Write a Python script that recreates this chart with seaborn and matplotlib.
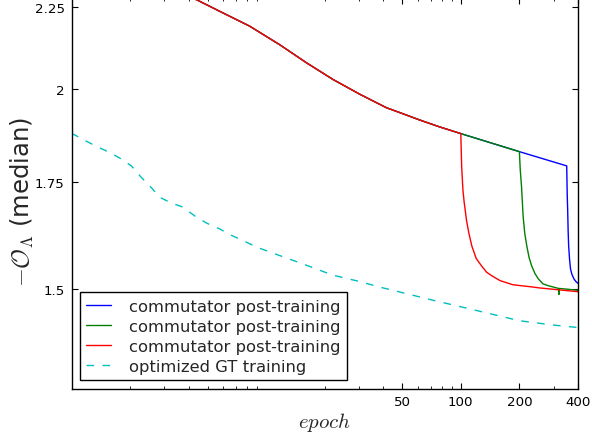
import matplotlib
matplotlib.use("Agg")
import matplotlib.pyplot as plt
import numpy as np
import pandas as pd
import seaborn as sns
from matplotlib.ticker import FixedLocator, FixedFormatter, NullLocator, NullFormatter, LogLocator

# Shared training trajectory (all post-training runs start from it)
shared_epochs = [1, 2, 3, 4.38, 6.0, 8.23, 11.7, 16.1, 22.0, 30.3, 41.5, 50, 61.5, 78, 100, 200, 350]
shared_values = [2.42, 2.36, 2.31, 2.273, 2.230, 2.188, 2.131, 2.076, 2.027, 1.984, 1.946,
                 1.930, 1.912, 1.893, 1.875, 1.827, 1.790]

# Commutator post-training branches: start epoch plus the tail after it
blue_start = 350
blue_epochs = [352, 354, 356, 358, 362, 366, 372, 381, 390, 400]
blue_values = [1.72, 1.68, 1.63, 1.597, 1.565, 1.544, 1.532, 1.522, 1.516, 1.512]

green_start = 200
green_epochs = [202, 205, 209, 213, 218, 224, 231, 240, 250, 264, 281, 318, 319, 320, 360, 400]
green_values = [1.78, 1.739, 1.665, 1.625, 1.597, 1.570, 1.551, 1.534, 1.522, 1.511, 1.507,
                1.501, 1.488, 1.501, 1.499, 1.497]

red_start = 100
red_epochs = [101, 102.5, 104, 107, 110, 114, 120, 128, 136, 145, 159, 185, 235, 255, 400]
red_values = [1.79, 1.73, 1.70, 1.655, 1.625, 1.595, 1.567, 1.550, 1.536, 1.528, 1.518,
              1.509, 1.504, 1.502, 1.494]

# Optimized ground-truth training
gt_epochs = [1, 1.14, 1.34, 1.57, 1.80, 2.03, 2.28, 2.57, 2.84, 3.26, 3.74, 4.29, 4.93, 5.77,
             6.62, 7.61, 8.91, 11.5, 15.4, 22, 29.5, 40, 50, 75, 100, 150, 200, 300, 400]
gt_values = [1.876, 1.860, 1.841, 1.825, 1.808, 1.790, 1.761, 1.735, 1.711, 1.697, 1.687, 1.666,
             1.649, 1.635, 1.620, 1.608, 1.593, 1.575, 1.555, 1.530, 1.517, 1.502, 1.492, 1.474,
             1.462, 1.445, 1.433, 1.424, 1.419]

x_ticks = [50, 100, 200, 400]
x_tick_labels = ["50", "100", "200", "400"]
y_ticks = [1.5, 1.75, 2, 2.25]
y_tick_labels = ["1.5", "1.75", "2", "2.25"]

legend_labels = ["commutator post-training", "commutator post-training",
                 "commutator post-training", "optimized GT training"]


def branch(start, epochs, values):
    e = [x for x in shared_epochs if x <= start] + list(epochs)
    v = [y for x, y in zip(shared_epochs, shared_values) if x <= start] + list(values)
    return pd.DataFrame({"epoch": e, "value": v})


sns.set_style("ticks")
plt.rcParams.update({
    "font.family": ["DejaVu Sans"],
    "mathtext.fontset": "cm",
    "xtick.direction": "in",
    "ytick.direction": "in",
    "xtick.top": True,
    "ytick.right": True,
    "xtick.major.size": 4,
    "ytick.major.size": 4,
    "xtick.minor.size": 2,
    "ytick.minor.size": 2,
    "xtick.major.width": 0.8,
    "ytick.major.width": 0.8,
    "xtick.minor.width": 0.6,
    "axes.edgecolor": "black",
    "axes.linewidth": 1.0,
    "xtick.color": "black",
    "ytick.color": "black",
})

fig = plt.figure(figsize=(5.92, 4.39), dpi=100)
ax = fig.add_axes([71.5 / 592, 49.5 / 439, (578 - 71.5) / 592, 391 / 439])

runs = [
    (branch(blue_start, blue_epochs, blue_values), "#0000ff"),
    (branch(green_start, green_epochs, green_values), "#008000"),
    (branch(red_start, red_epochs, red_values), "#ff0000"),
]
for (df, color), label in zip(runs, legend_labels[:3]):
    sns.lineplot(data=df, x="epoch", y="value", color=color, linewidth=1.0,
                 label=label, ax=ax, sort=False, estimator=None)

gt_df = pd.DataFrame({"epoch": gt_epochs, "value": gt_values})
sns.lineplot(data=gt_df, x="epoch", y="value", color="#00bfbf", linewidth=1.0,
             label=legend_labels[3], ax=ax, sort=False, estimator=None)
ax.lines[-1].set_dashes((5.5, 6))

ax.set_xscale("log")
ax.set_yscale("log")
ax.set_xlim(1, 400)
ax.set_ylim(1.3, 2.28)

ax.xaxis.set_major_locator(FixedLocator(x_ticks))
ax.xaxis.set_major_formatter(FixedFormatter(x_tick_labels))
ax.xaxis.set_minor_locator(LogLocator(base=10, subs=np.arange(2, 10)))
ax.xaxis.set_minor_formatter(NullFormatter())
ax.yaxis.set_major_locator(FixedLocator(y_ticks))
ax.yaxis.set_major_formatter(FixedFormatter(y_tick_labels))
ax.yaxis.set_minor_locator(NullLocator())
ax.yaxis.set_minor_formatter(NullFormatter())
ax.tick_params(axis="both", which="major", labelsize=9.6, pad=5)

for s in ax.spines.values():
    s.set_visible(True)
    s.set_color("black")

ax.set_xlabel(r"$epoch$", fontsize=15, labelpad=1)
ax.set_ylabel(r"$-\mathcal{O}_\Lambda$ (median)", fontsize=17.5, labelpad=0)
ax.yaxis.set_label_coords(-0.071, 0.48)

leg = ax.legend(loc="lower left", fontsize=11.8, frameon=True, fancybox=False,
                edgecolor="black", framealpha=1, handlelength=1.5,
                handletextpad=1.1, labelspacing=0.3, borderpad=0.4,
                borderaxespad=0.5)
leg.get_frame().set_linewidth(1.0)

fig.savefig("out.png", dpi=100)
